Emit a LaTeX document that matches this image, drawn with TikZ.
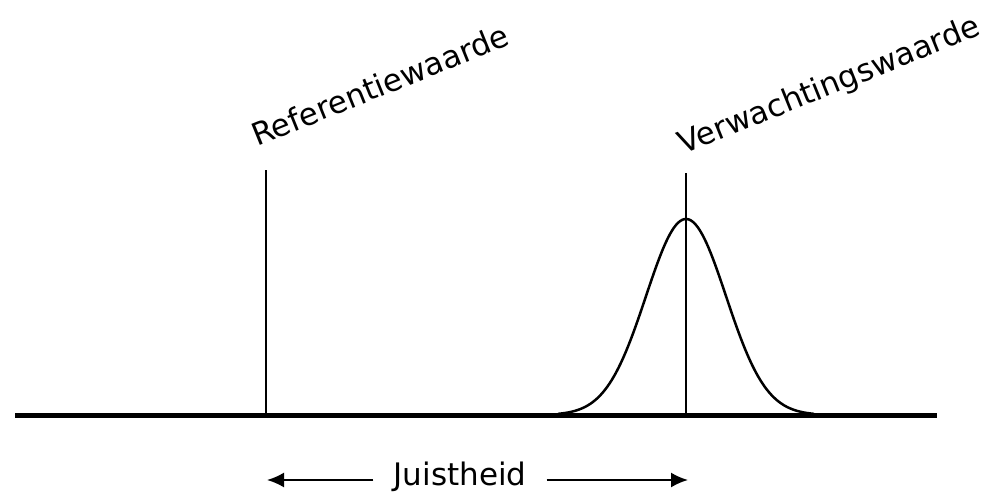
\documentclass[tikz,border=0pt]{standalone}
\usepackage{fontspec}
\setmainfont{DejaVu Sans}
\usetikzlibrary{arrows.meta}
\tikzset{
  label text/.style={font=\fontsize{31}{37}\selectfont, inner sep=0pt},
  pijl/.style={line width=2pt, -{Latex[length=17pt,width=15pt]}}
}

\begin{document}
\begin{tikzpicture}[x=1pt,y=-1pt]
\useasboundingbox (0,0) rectangle (981,492);
\coordinate (reftop) at (266,170);
\coordinate (refbot) at (266,415);
\coordinate (verwtop) at (686,173);
\coordinate (verwbot) at (686,415);
\coordinate (aslinks) at (15,415.5);
\coordinate (asrechts) at (937,415.5);
\draw[line width=5.5pt] (aslinks) -- (asrechts);
\draw[line width=2pt] (reftop) -- (refbot);
\draw[line width=2pt] (verwtop) -- (verwbot);
\draw[line width=2.5pt] plot[domain=-128:128, samples=120]
	({686+\x},{415-196*exp(-(\x/40)*(\x/40)/2)});
\node[label text, anchor=base west, rotate=22] (ref) at (257,147) {Referentiewaarde};
\node[label text, anchor=base west, rotate=22] (verw) at (683,155) {Verwachtingswaarde};
\node[label text, anchor=base, inner xsep=20pt] (jst) at (460,485) {Juistheid};
\coordinate (links) at (267,480);
\coordinate (rechts) at (688,480);
\draw[pijl] (jst.west |- links) -- (links);
\draw[pijl] (jst.east |- rechts) -- (rechts);
\end{tikzpicture}
\end{document}
